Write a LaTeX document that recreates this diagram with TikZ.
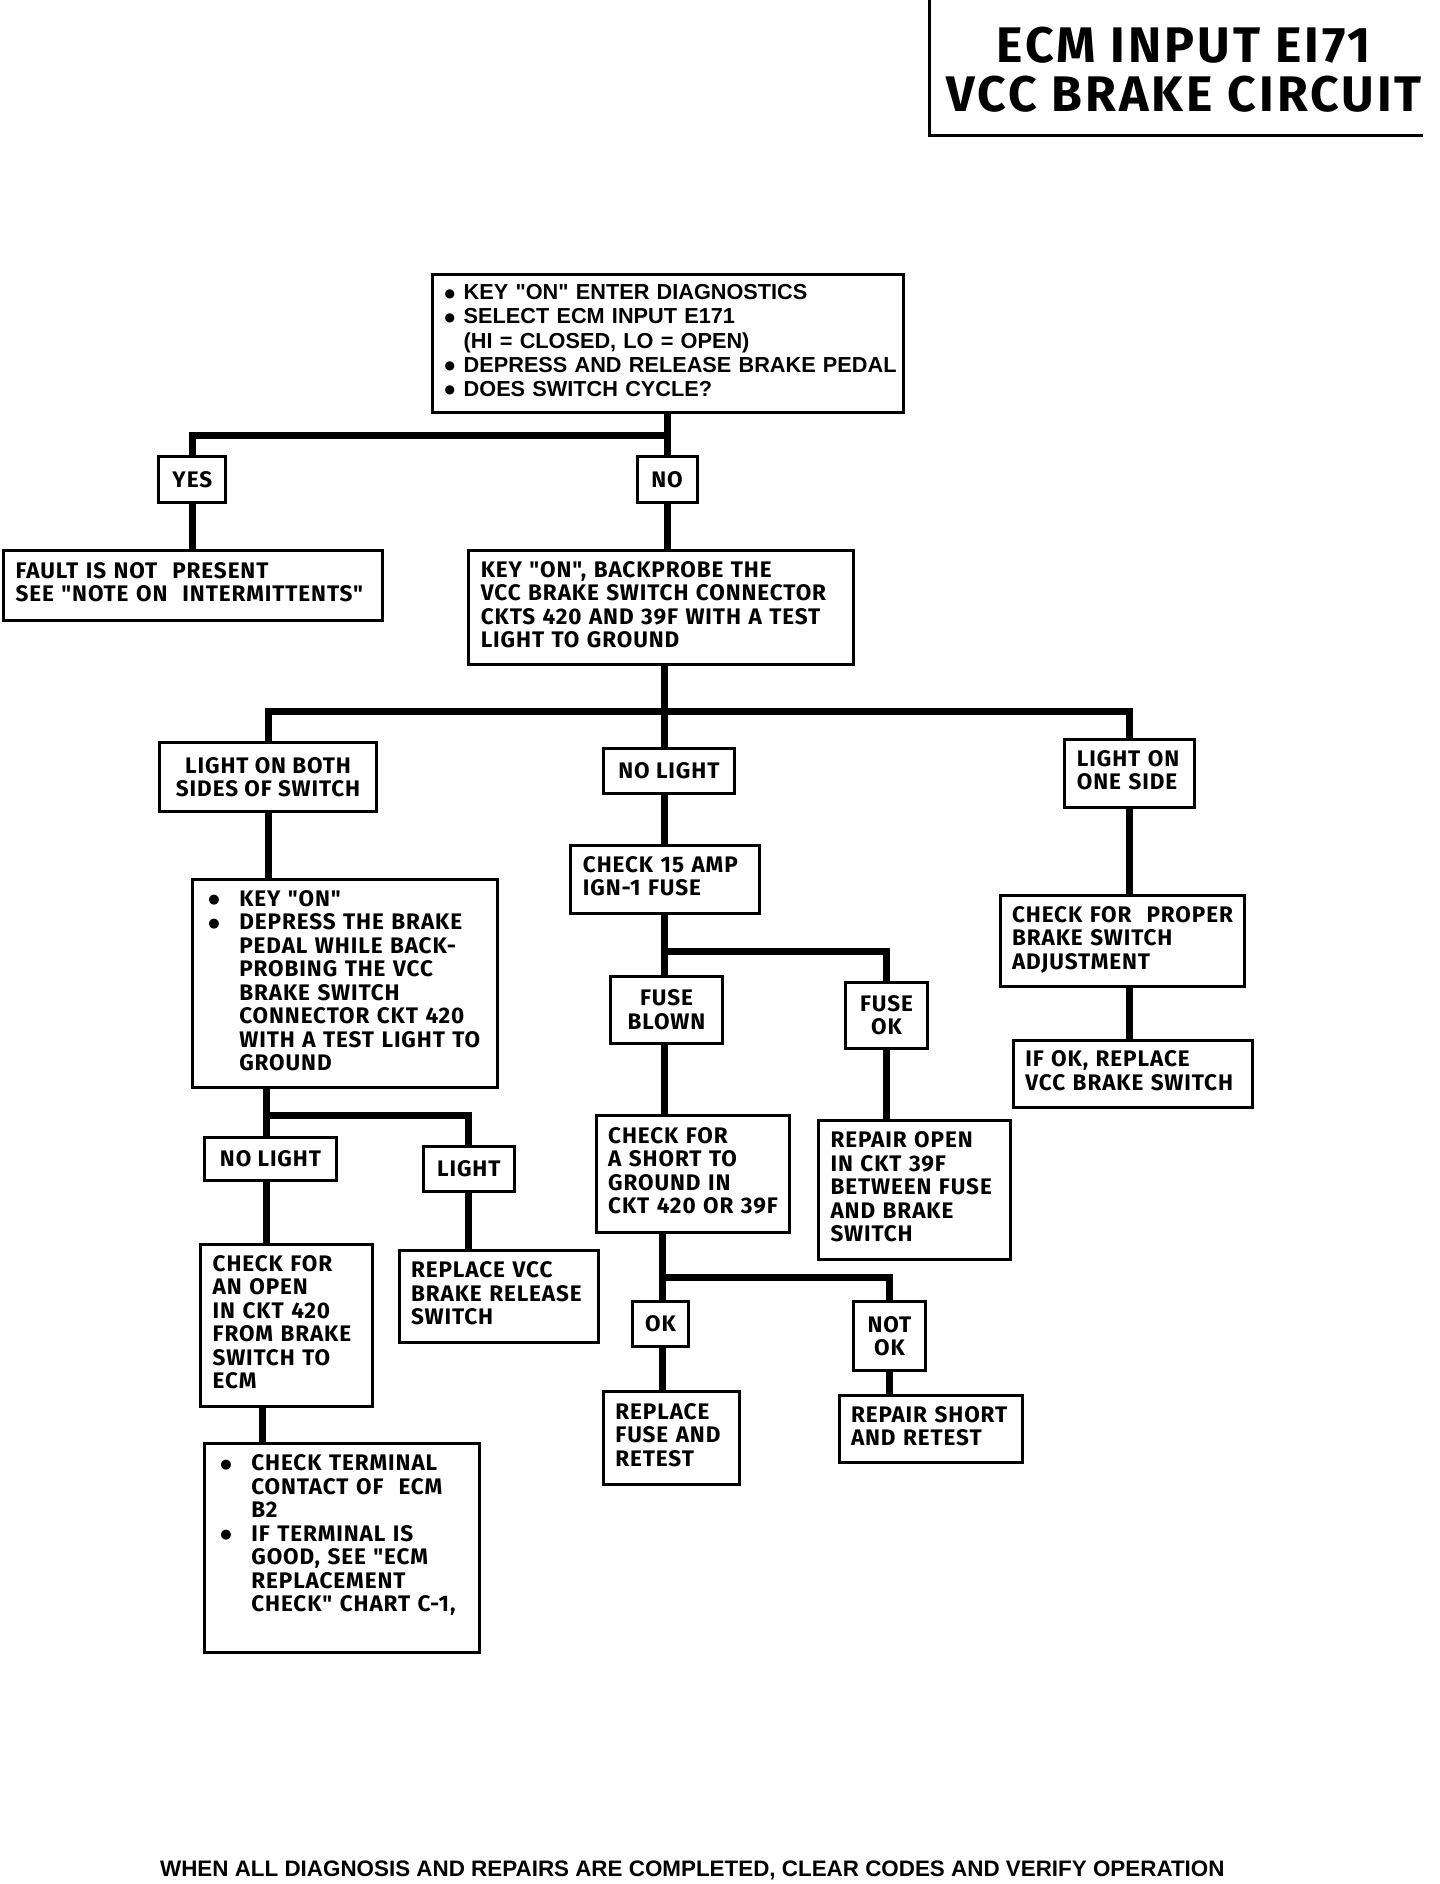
\documentclass[tikz,border=0pt]{standalone}
\usepackage{fontspec}
\newfontfamily\cond{Fira Sans}[LetterSpace=4]
\newfontfamily\titlef{Fira Sans}[LetterSpace=6]
\newfontfamily\helv{Liberation Sans}
\newfontfamily\dejavu{DejaVu Sans}
\newcommand\bul{\hspace*{4pt}\makebox[31pt][l]{\raisebox{2.5pt}{\dejavu\fontsize{13}{13}\selectfont ●}}}
\newcommand\ind{\hspace*{35pt}}
\newcommand\hb{\makebox[19pt][l]{\raisebox{2.5pt}{\dejavu\fontsize{12}{12}\selectfont ●}}}
\newcommand\hi{\hspace*{19pt}}
\tikzset{
  box/.style={draw, line width=3pt, inner xsep=0pt, inner ysep=0pt, align=left,
    font=\cond\bfseries\fontsize{22.5}{23.5}\selectfont},
  cbox/.style={box, align=center},
  hbox/.style={box, font=\helv\bfseries\fontsize{21.7}{24.2}\selectfont},
  conn/.style={line width=7pt},
  frame/.style={line width=3pt},
}
% left-aligned box: lines never wrap
\newcommand\bx[7][]{%
  \pgfmathsetmacro\myW{(#5-#3)*1.202}%
  \pgfmathsetmacro\myH{(#6-#4)*1.202}%
  \pgfmathsetmacro\myT{\myW-24}%
  \node[box,#1,minimum width=\myW pt,minimum height=\myH pt,text width=\myT pt]
    (#2) at ({(#3+#5)/2},{(#4+#6)/2}) {\begin{tabular}{@{}l@{}}#7\end{tabular}};}
% centred label box
\newcommand\cbx[6]{%
  \pgfmathsetmacro\myW{(#4-#2)*1.202}%
  \pgfmathsetmacro\myH{(#5-#3)*1.202}%
  \node[cbox,minimum width=\myW pt,minimum height=\myH pt]
    (#1) at ({(#2+#4)/2},{(#3+#5)/2}) {#6};}
\begin{document}
\begin{tikzpicture}[x=1.202pt,y=-1.202pt]
\useasboundingbox (0,0) rectangle (1198,1567.4);
% title
\coordinate (tA) at (773,0);
\coordinate (tB) at (773,113);
\coordinate (tC) at (1184,113);
\draw[frame] (tA) -- (tB) -- (tC);
\node[font=\titlef\bfseries\fontsize{50}{49}\selectfont, align=center] (title) at (985,58)
  {ECM INPUT EI71\\VCC BRAKE CIRCUIT};
% boxes
\bx[hbox]{b1}{360}{228}{752}{343}{\hb KEY "ON" ENTER DIAGNOSTICS\\\hb SELECT ECM INPUT E171\\\hi(HI = CLOSED, LO = OPEN)\\\hb DEPRESS AND RELEASE BRAKE PEDAL\\\hb DOES SWITCH CYCLE?}
\cbx{yes}{132}{380}{188}{418}{YES}
\cbx{no}{530}{380}{580}{418}{NO}
\bx{fault}{3}{458}{318}{516}{FAULT IS NOT\ \ PRESENT\\SEE "NOTE ON\ \ INTERMITTENTS"}
\bx{key}{390}{458}{710}{553}{KEY "ON", BACKPROBE THE\\VCC BRAKE SWITCH CONNECTOR\\CKTS 420 AND 39F WITH A TEST\\LIGHT TO GROUND}
\cbx{both}{133}{618}{313}{675}{LIGHT ON BOTH\\SIDES OF SWITCH}
\cbx{nolightA}{502}{623}{611}{660}{NO LIGHT}
\bx{oneside}{886}{615}{994}{672}{LIGHT ON\\ONE SIDE}
\bx{depress}{160}{732}{414}{905}{\bul KEY "ON"\\\bul DEPRESS THE BRAKE\\\ind PEDAL WHILE BACK-\\\ind PROBING THE VCC\\\ind BRAKE SWITCH\\\ind CONNECTOR CKT 420\\\ind WITH A TEST LIGHT TO\\\ind GROUND}
\bx{amp}{475}{703}{632}{760}{CHECK 15 AMP\\IGN-1 FUSE}
\cbx{blown}{508}{812}{601}{868}{FUSE\\BLOWN}
\cbx{fuseok}{703}{817}{772}{872}{FUSE\\OK}
\bx{proper}{832}{745}{1035}{821}{CHECK FOR\ \ PROPER\\BRAKE SWITCH\\ADJUSTMENT}
\bx{ifok}{843}{866}{1042}{921}{IF OK, REPLACE\\VCC BRAKE SWITCH}
\cbx{nolightB}{170}{946}{280}{982}{NO LIGHT}
\cbx{light}{352}{954}{428}{991}{LIGHT}
\bx{open}{167}{1035}{310}{1170}{CHECK FOR\\AN OPEN\\IN CKT 420\\FROM BRAKE\\SWITCH TO\\ECM}
\bx{replvcc}{332}{1040}{498}{1117}{REPLACE VCC\\BRAKE RELEASE\\SWITCH}
\bx{terminal}{170}{1201}{399}{1375}{\bul CHECK TERMINAL\\\ind CONTACT OF\ \ ECM\\\ind B2\\\bul IF TERMINAL IS\\\ind GOOD, SEE "ECM\\\ind REPLACEMENT\\\ind CHECK" CHART C-1,\\\mbox{}}
\bx{short}{496}{928}{657}{1025}{CHECK FOR\\A SHORT TO\\GROUND IN\\CKT 420 OR 39F}
\bx{repopen}{681}{932}{841}{1048}{REPAIR OPEN\\IN CKT 39F\\BETWEEN FUSE\\AND BRAKE\\SWITCH}
\cbx{ok}{526}{1083}{573}{1120}{OK}
\cbx{notok}{710}{1083}{770}{1140}{NOT\\OK}
\bx{replfuse}{502}{1158}{615}{1235}{REPLACE\\FUSE AND\\RETEST}
\bx{repshort}{698}{1161}{851}{1217}{REPAIR SHORT\\AND RETEST}
% footer
\node[font=\helv\bfseries\fontsize{22.4}{22.4}\selectfont] (footer) at (576,1556)
  {WHEN ALL DIAGNOSIS AND REPAIRS ARE COMPLETED, CLEAR CODES AND VERIFY OPERATION};
% junctions
\coordinate (j1) at (555,362);
\coordinate (j2) at (553,592);
\coordinate (j3) at (553,792);
\coordinate (j4) at (222,928);
\coordinate (j5) at (551,1063);
\coordinate (x218) at (218,0);
% connectors
\draw[conn] (b1.south -| j1) -- (j1);
\draw[conn] (j1) -| (yes.north);
\draw[conn] (j1) -- (no.north -| j1);
\draw[conn] (yes.south) -- (yes.south |- fault.north);
\draw[conn] (no.south) -- (no.south |- key.north);
\draw[conn] (key.south -| j2) -- (j2);
\draw[conn] (j2) -| (both.north);
\draw[conn] (j2) -| (oneside.north);
\draw[conn] (j2) -- (j2 |- nolightA.north);
\draw[conn] (both.south) -- (both.south |- depress.north);
\draw[conn] (nolightA.south -| j2) -- (j2 |- amp.north);
\draw[conn] (oneside.south) -- (oneside.south |- proper.north);
\draw[conn] (proper.south -| oneside.south) -- (oneside.south |- ifok.north);
\draw[conn] (amp.south -| j3) -- (j3);
\draw[conn] (j3) -| (fuseok.north);
\draw[conn] (j3) -- (j3 |- blown.north);
\draw[conn] (blown.south -| j3) -- (j3 |- short.north);
\draw[conn] (fuseok.south) -- (fuseok.south |- repopen.north);
\draw[conn] (depress.south -| j4) -- (j4);
\draw[conn] (j4) -| (light.north);
\draw[conn] (j4) -- (j4 |- nolightB.north);
\draw[conn] (nolightB.south -| j4) -- (j4 |- open.north);
\draw[conn] (light.south) -- (light.south |- replvcc.north);
\draw[conn] (open.south -| x218) -- (x218 |- terminal.north);
\draw[conn] (short.south -| j5) -- (j5);
\draw[conn] (j5) -| (notok.north);
\draw[conn] (j5) -- (j5 |- ok.north);
\draw[conn] (ok.south -| j5) -- (j5 |- replfuse.north);
\draw[conn] (notok.south) -- (notok.south |- repshort.north);
\end{tikzpicture}
\end{document}
